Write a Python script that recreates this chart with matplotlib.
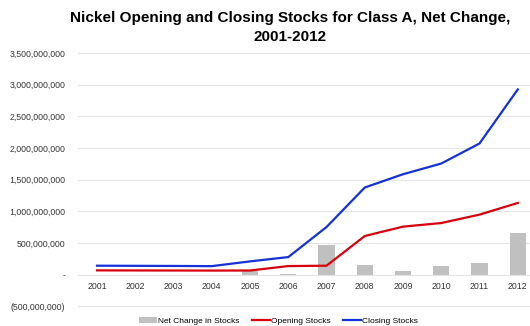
import matplotlib.pyplot as plt
from matplotlib.ticker import FuncFormatter

plt.rcParams['font.family'] = ['Liberation Sans', 'DejaVu Sans']

years = ['2001', '2002', '2003', '2004', '2005', '2006',
         '2007', '2008', '2009', '2010', '2011', '2012']
net_change = [0, 0, 0, 0, 60e6, 5e6, 465e6, 150e6, 57e6, 136e6, 184e6, 664e6]
opening = [68e6, 67e6, 66e6, 65e6, 66e6, 136e6, 142e6, 611e6, 759e6, 816e6, 949e6, 1133e6]
closing = [142e6, 140e6, 138e6, 135e6, 210e6, 278e6, 753e6, 1377e6, 1587e6, 1756e6, 2073e6, 2927e6]

def fmt(v, pos):
    if v == 0:
        return '-'
    if v < 0:
        return '({:,.0f})'.format(-v)
    return '{:,.0f}'.format(v)

fig = plt.figure(figsize=(5.3, 3.26), dpi=100)
ax = fig.add_axes([0.147, 0.058, 0.866, 0.779])

x = range(len(years))
bars = ax.bar(x, net_change, width=0.42, color='#c0c0c0', label='Net Change in Stocks', zorder=2)
l1, = ax.plot(x, opening, color='#d9000d', lw=1.6, label='Opening Stocks', zorder=3)
l2, = ax.plot(x, closing, color='#1432d8', lw=1.6, label='Closing Stocks', zorder=3)

ax.set_xlim(-0.5, 11.5)
ax.set_ylim(-512e6, 3500e6)
ax.set_yticks([i * 500e6 for i in range(-1, 8)])
ax.yaxis.set_major_formatter(FuncFormatter(fmt))
ax.set_xticks(list(x))
ax.set_xticklabels(years)
ax.grid(axis='y', color='#e4e4e4', lw=0.8, zorder=0)
for s in ['top', 'right', 'left']:
    ax.spines[s].set_visible(False)
ax.spines['bottom'].set_position(('data', 0))
ax.spines['bottom'].set_color('#e4e4e4')
ax.tick_params(axis='both', length=0, labelsize=6.3, colors='#333333')
ax.tick_params(axis='x', pad=5)
ax.tick_params(axis='y', pad=9)

fig.suptitle('Nickel Opening and Closing Stocks for Class A, Net Change,\n2001-2012',
             x=0.548, y=0.965, fontsize=11, fontweight='bold', linespacing=1.4)

ax.legend([bars, l1, l2], ['Net Change in Stocks', 'Opening Stocks', 'Closing Stocks'],
          loc='center', bbox_to_anchor=(0.437, -0.055), ncol=3, frameon=False,
          fontsize=6, handlelength=2.2, handletextpad=0.1, columnspacing=1.5)

fig.savefig('out.png', dpi=100)
